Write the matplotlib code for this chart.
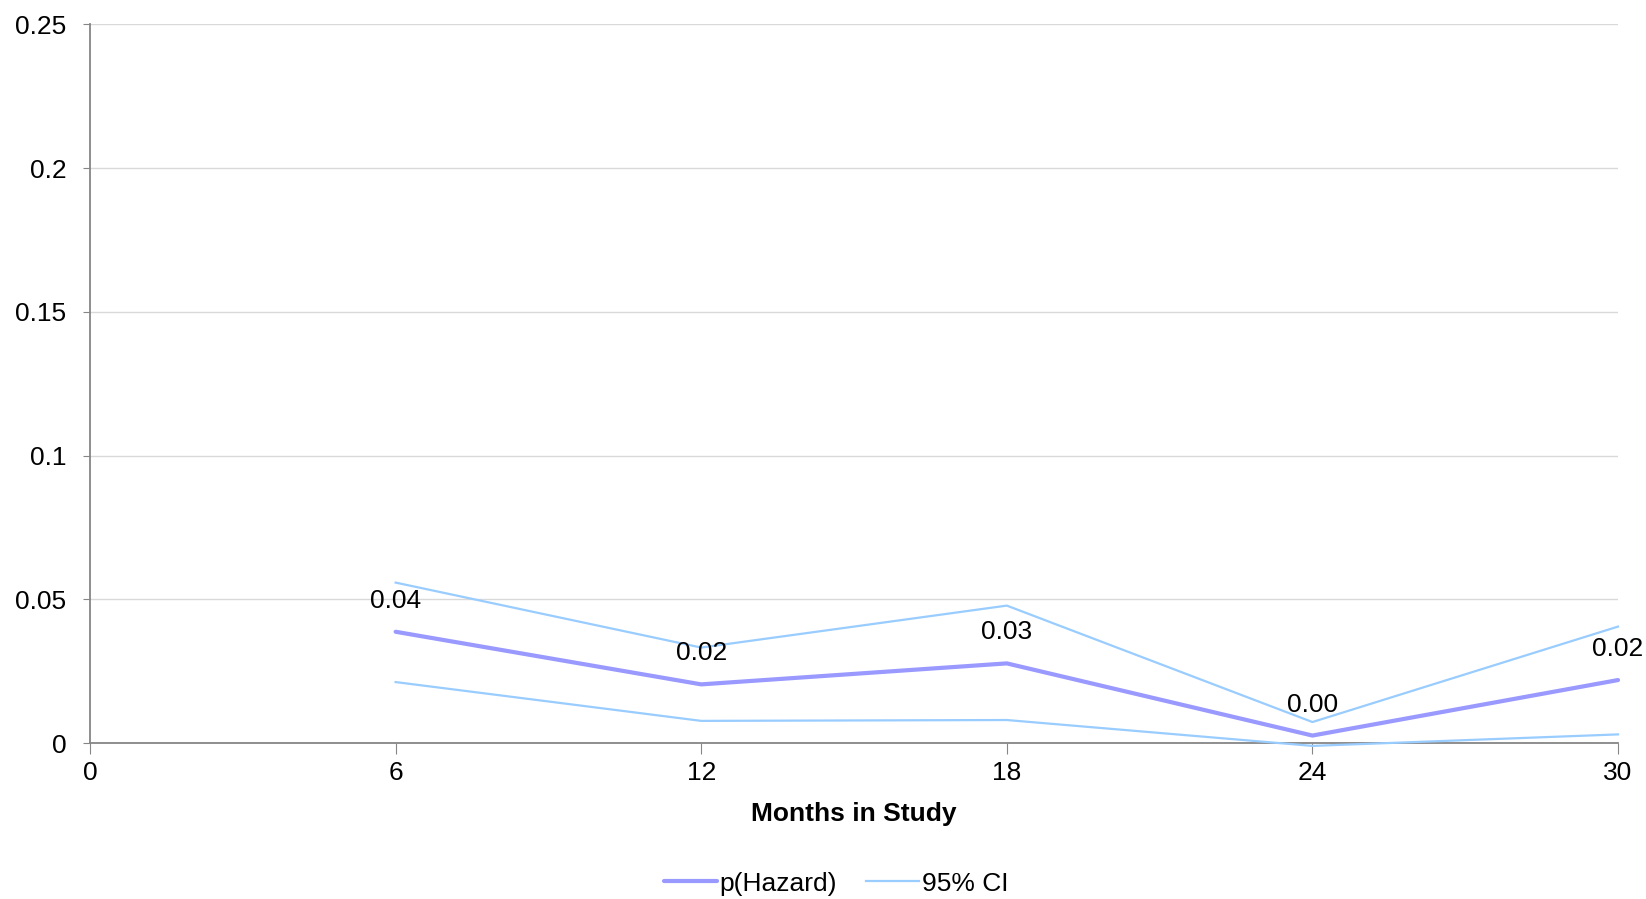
import matplotlib
matplotlib.use("Agg")
import matplotlib.pyplot as plt

plt.rcParams['font.family'] = ['Liberation Sans', 'DejaVu Sans']

months = [6, 12, 18, 24, 30]
hazard = [0.0387, 0.0204, 0.0277, 0.0026, 0.0219]
ci_upper = [0.0558, 0.0332, 0.0478, 0.0073, 0.0405]
ci_lower = [0.0212, 0.0077, 0.0080, -0.0010, 0.0030]
labels = ['0.04', '0.02', '0.03', '0.00', '0.02']
yticks = [0, 0.05, 0.1, 0.15, 0.2, 0.25]
ytick_labels = ['0', '0.05', '0.1', '0.15', '0.2', '0.25']

fs = 19

fig = plt.figure(figsize=(16.46, 8.99), dpi=100)
ax = fig.add_axes([0.0547, 0.1735, 0.9283, 0.7995])

ax.plot(months, ci_upper, color='#99CCFF', lw=1.6, label='95% CI', clip_on=False, zorder=2)
ax.plot(months, ci_lower, color='#99CCFF', lw=1.6, clip_on=False, zorder=2)
ax.plot(months, hazard, color='#9999FF', lw=3, label='p(Hazard)', clip_on=False, zorder=3,
        solid_capstyle='round')

for x, y, t in zip(months, hazard, labels):
    ax.annotate(t, (x, y), xytext=(0, 31), textcoords='offset pixels',
                ha='center', va='center', fontsize=fs)

ax.set_xlim(0, 30)
ax.set_ylim(0, 0.25)
ax.set_xticks(range(0, 31, 6))
ax.set_yticks(yticks)
ax.set_yticklabels(ytick_labels)
ax.tick_params(axis='both', labelsize=fs, colors='#868686', labelcolor='black')
ax.tick_params(axis='x', length=8, pad=5)
ax.tick_params(axis='y', length=5, pad=12)
ax.grid(axis='y', color='#D9D9D9', lw=1)
ax.set_axisbelow(True)
for s in ['top', 'right']:
    ax.spines[s].set_visible(False)
for s in ['left', 'bottom']:
    ax.spines[s].set_color('#868686')
    ax.spines[s].set_linewidth(1.3)
    ax.spines[s].set_zorder(1.5)

ax.set_xlabel('Months in Study', fontsize=fs, fontweight='bold', labelpad=12)

h, l = ax.get_legend_handles_labels()
fig.legend(h[::-1], l[::-1], loc='center', bbox_to_anchor=(0.508, 0.017), ncol=2,
           frameon=False, fontsize=fs, handlelength=2.0, handletextpad=0.1, columnspacing=1.1)

fig.savefig('out.png', dpi=100)
